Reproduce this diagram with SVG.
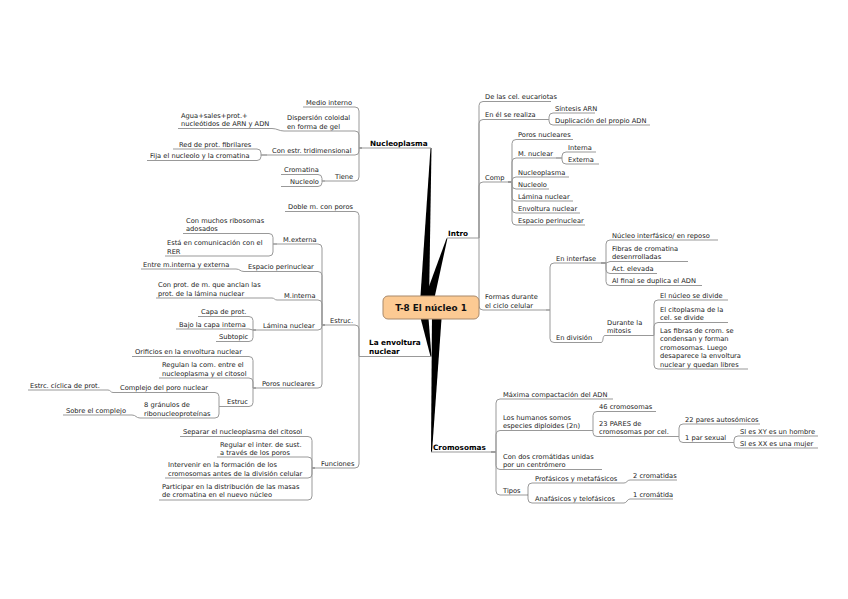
<svg xmlns="http://www.w3.org/2000/svg" width="848" height="599" viewBox="0 0 848 599">
<style>
.t{font-family:"DejaVu Sans",Verdana,sans-serif;font-size:6.7px;fill:#222}
.b{font-family:"DejaVu Sans",Verdana,sans-serif;font-weight:bold;font-size:7.3px;fill:#000}
.rt{font-family:"DejaVu Sans",Verdana,sans-serif;font-weight:bold;font-size:8.8px;fill:#111}
.u,.c{stroke:#999;stroke-width:1;fill:none}
.w{fill:#000}
</style>
<rect width="848" height="599" fill="#fff"/>
<g id="connectors">
<polygon class="w" points="430.5,148 431.5,148 429,303 420,303"/>
<polygon class="w" points="446.5,238.5 447.5,238 434,300 424,300"/>
<polygon class="w" points="430.5,356.5 431.5,356.5 428,312 419,312"/>
<polygon class="w" points="431,452 432,452 442,312 432,312"/>
<path class="c" d="M479 238 V105.5 Q479 101.5 483 101.5 M479 238 V123.5 Q479 119.5 483 119.5 M479 238 V186 Q479 182 483 182 M479 238 V306 Q479 310 483 310"/>
<path class="c" d="M545 119.5 H549 V117 Q549 113 553 113 M545 119.5 H549 V121 Q549 125 553 125"/>
<path class="c" d="M508 182 H512 V143.5 Q512 139.5 516 139.5 M508 182 H512 V162 Q512 158 516 158 M508 182 H512 V181 Q512 177 516 177 M508 182 H512 V185 Q512 189 516 189 M508 182 H512 V197 Q512 201 516 201 M508 182 H512 V209 Q512 213 516 213 M508 182 H512 V221 Q512 225 516 225"/>
<path class="c" d="M556 158 H562 V156 Q562 152 566 152 M556 158 H562 V160 Q562 164 566 164"/>
<path class="c" d="M546 310 H550 V267 Q550 263 554 263 M546 310 H550 V338.5 Q550 342.5 554 342.5"/>
<path class="c" d="M601 263 H606 V244 Q606 240 610 240 M601 263 H606 L610 261.5 M601 263 H606 V269.5 Q606 273.5 610 273.5 M601 263 H606 V281.5 Q606 285.5 610 285.5"/>
<path class="c" d="M601 342.5 C604 342.5 602 335.5 605 335.5"/>
<path class="c" d="M648 335.5 H654 V304 Q654 300 658 300 M648 335.5 H654 V326.5 Q654 322.5 658 322.5 M648 335.5 H654 V365 Q654 369 658 369"/>
<path class="c" d="M491 452 H496 V403 Q496 399 500 399 M491 452 H496 V434.5 Q496 430.5 500 430.5 M491 452 H496 V465.5 Q496 469.5 500 469.5 M491 452 H496 V491 Q496 495 500 495"/>
<path class="c" d="M589 430.5 H593 V415.5 Q593 411.5 597 411.5 M589 430.5 H593 V432.5 Q593 436.5 597 436.5"/>
<path class="c" d="M676 436.5 H679 V428 Q679 424 683 424 M676 436.5 H679 V438.5 Q679 442.5 683 442.5"/>
<path class="c" d="M730 442.5 H734 V440 Q734 436 738 436 M730 442.5 H734 V444 Q734 448 738 448"/>
<path class="c" d="M527 495 H528 V487 Q528 483 532 483 M527 495 H528 V499 Q528 503 532 503"/>
<path class="c" d="M624 483 C627 483 627 480 630 480 M624 503 C627 503 627 499 630 499"/>
<path class="c" d="M362 148 H359 V111 Q359 107 355 107 M362 148 H359 V135 Q359 131 355 131 M362 148 H359 V151 Q359 155 355 155 M362 148 H359 V177 Q359 181 355 181"/>
<path class="c" d="M284 131 C279 131 277 128.5 272 128.5"/>
<path class="c" d="M267 155 H261 V153 Q261 149 257 149 M267 155 H261 V156.5 Q261 160.5 257 160.5"/>
<path class="c" d="M325 181 H322 V178.5 Q322 174.5 318 174.5 M325 181 H322 V182.5 Q322 186.5 318 186.5"/>
<path class="c" d="M362 356.5 H359 V215.5 Q359 211.5 355 211.5 M362 356.5 H359 V329 Q359 325 355 325 M362 356.5 H359 V464 Q359 468 355 468"/>
<path class="c" d="M325 325 H322 V248 Q322 244 318 244 M325 325 H322 V275.5 Q322 271.5 318 271.5 M325 325 H322 V304 Q322 300 318 300 M325 325 H322 V326 Q322 330 318 330 M325 325 H322 V384 Q322 388 318 388"/>
<path class="c" d="M277 244 H273 V237.5 Q273 233.5 269 233.5 M277 244 H273 V252 Q273 256 269 256"/>
<path class="c" d="M244 271.5 C240 271.5 240 269 236 269 M277 300 C274.5 300 274.5 298 272 298"/>
<path class="c" d="M256 330 H253 V320.5 Q253 316.5 249 316.5 M256 330 H253 L249 329 M256 330 H253 V337.5 Q253 341.5 249 341.5"/>
<path class="c" d="M256 388 H253 V360.5 Q253 356.5 249 356.5 M256 388 H253 V382 Q253 378 249 378 M256 388 H253 V402.5 Q253 406.5 249 406.5"/>
<path class="c" d="M222 406.5 H219 V396.5 Q219 392.5 215 392.5 M222 406.5 H219 V414 Q219 418 215 418"/>
<path class="c" d="M113 392.5 C110.5 392.5 110.5 390 108 390 M140 418 C136 418 136 415 132 415"/>
<path class="c" d="M315 468 H312 V440.5 Q312 436.5 308 436.5 M315 468 H312 V461 Q312 457 308 457 M315 468 H312 V474 Q312 478 308 478 M315 468 H312 V496 Q312 500 308 500"/>
</g>
<g id="root"><rect x="383" y="296" width="96" height="23" rx="5" fill="#fcca93" stroke="#a8896b"/><text class="rt" x="431" y="311" text-anchor="middle">T-8 El núcleo 1</text></g>
<g id="nucleoplasma"><text class="b" x="370" y="145.5">Nucleoplasma</text><path class="u" d="M362 148 H431"/></g>
<g id="intro"><text class="b" x="448" y="235.5">Intro</text><path class="u" d="M447 238 H479"/></g>
<g id="envoltura"><text class="b" x="369" y="344.5">La envoltura<tspan x="369" dy="9">nuclear</tspan></text><path class="u" d="M362 356.5 H431"/></g>
<g id="cromosomas"><text class="b" x="433" y="449.5">Cromosomas</text><path class="u" d="M431 452 H491"/></g>
<g id="n-eucariotas"><text class="t" x="485" y="99">De las cel. eucariotas</text><path class="u" d="M483 101.5 H551"/></g>
<g id="n-realiza"><text class="t" x="485" y="117">En él se realiza</text><path class="u" d="M483 119.5 H545"/></g>
<g id="n-sintesis"><text class="t" x="555" y="110.5">Síntesis ARN</text><path class="u" d="M553 113 H595"/></g>
<g id="n-duplicacion"><text class="t" x="555" y="122.5">Duplicación del propio ADN</text><path class="u" d="M553 125 H650"/></g>
<g id="n-comp"><text class="t" x="485" y="179.5">Comp</text><path class="u" d="M483 182 H508"/></g>
<g id="n-poros1"><text class="t" x="518" y="137">Poros nucleares</text><path class="u" d="M516 139.5 H573"/></g>
<g id="n-mnuclear"><text class="t" x="518" y="155.5">M. nuclear</text><path class="u" d="M516 158 H556"/></g>
<g id="n-interna"><text class="t" x="568" y="149.5">Interna</text><path class="u" d="M566 152 H596"/></g>
<g id="n-externa"><text class="t" x="568" y="161.5">Externa</text><path class="u" d="M566 164 H599"/></g>
<g id="n-nucleoplasma2"><text class="t" x="518" y="174.5">Nucleoplasma</text><path class="u" d="M516 177 H569"/></g>
<g id="n-nucleolo2"><text class="t" x="518" y="186.5">Nucleolo</text><path class="u" d="M516 189 H549"/></g>
<g id="n-lamina2"><text class="t" x="518" y="198.5">Lámina nuclear</text><path class="u" d="M516 201 H573"/></g>
<g id="n-envoltura2"><text class="t" x="518" y="210.5">Envoltura nuclear</text><path class="u" d="M516 213 H580"/></g>
<g id="n-espacio2"><text class="t" x="518" y="222.5">Espacio perinuclear</text><path class="u" d="M516 225 H585"/></g>
<g id="n-formas"><text class="t" x="485" y="298.5">Formas durante<tspan x="485" dy="9">el ciclo celular</tspan></text><path class="u" d="M483 310 H546"/></g>
<g id="n-interfase"><text class="t" x="556" y="260.5">En interfase</text><path class="u" d="M554 263 H601"/></g>
<g id="n-reposo"><text class="t" x="612" y="237.5">Núcleo interfásico/ en reposo</text><path class="u" d="M610 240 H718"/></g>
<g id="n-fibras"><text class="t" x="612" y="250.5">Fibras de cromatina<tspan x="612" dy="8.5">desenrrolladas</tspan></text><path class="u" d="M610 261.5 H688"/></g>
<g id="n-act"><text class="t" x="612" y="271">Act. elevada</text><path class="u" d="M610 273.5 H657"/></g>
<g id="n-alfinal"><text class="t" x="612" y="283">Al final se duplica el ADN</text><path class="u" d="M610 285.5 H702"/></g>
<g id="n-division"><text class="t" x="556" y="340">En división</text><path class="u" d="M554 342.5 H601"/></g>
<g id="n-mitosis"><text class="t" x="607" y="324.5">Durante la<tspan x="607" dy="8.5">mitosis</tspan></text><path class="u" d="M605 335.5 H648"/></g>
<g id="n-divide1"><text class="t" x="660" y="297.5">El núcleo se divide</text><path class="u" d="M658 300 H728"/></g>
<g id="n-divide2"><text class="t" x="660" y="311.5">El citoplasma de la<tspan x="660" dy="8.5">cel. se divide</tspan></text><path class="u" d="M658 322.5 H728"/></g>
<g id="n-libres"><text class="t" x="660" y="332.5">Las fibras de crom. se<tspan x="660" dy="8.5">condensan y forman</tspan><tspan x="660" dy="8.5">cromosomas. Luego</tspan><tspan x="660" dy="8.5">desaparece la envoltura</tspan><tspan x="660" dy="8.5">nuclear y quedan libres</tspan></text><path class="u" d="M658 369 H748"/></g>
<g id="n-maxima"><text class="t" x="503" y="396.5">Máxima compactación del ADN</text><path class="u" d="M500 399 H613"/></g>
<g id="n-humanos"><text class="t" x="503" y="419.5">Los humanos somos<tspan x="503" dy="8.5">especies diploides (2n)</tspan></text><path class="u" d="M500 430.5 H589"/></g>
<g id="n-46"><text class="t" x="599" y="409">46 cromosomas</text><path class="u" d="M597 411.5 H656"/></g>
<g id="n-23"><text class="t" x="599" y="425.5">23 PARES de<tspan x="599" dy="8.5">cromosomas por cel.</tspan></text><path class="u" d="M597 436.5 H676"/></g>
<g id="n-22"><text class="t" x="685" y="421.5">22 pares autosómicos</text><path class="u" d="M683 424 H760"/></g>
<g id="n-sexual"><text class="t" x="685" y="440">1 par sexual</text><path class="u" d="M683 442.5 H730"/></g>
<g id="n-xy"><text class="t" x="740" y="433.5">SI es XY es un hombre</text><path class="u" d="M738 436 H818"/></g>
<g id="n-xx"><text class="t" x="740" y="445.5">SI es XX es una mujer</text><path class="u" d="M738 448 H818"/></g>
<g id="n-dos"><text class="t" x="503" y="458.5">Con dos cromátidas unidas<tspan x="503" dy="8.5">por un centrómero</tspan></text><path class="u" d="M500 469.5 H602"/></g>
<g id="n-tipos"><text class="t" x="503" y="492.5">Tipos</text><path class="u" d="M500 495 H527"/></g>
<g id="n-profasicos"><text class="t" x="535" y="480.5">Profásicos y metafásicos</text><path class="u" d="M532 483 H624"/></g>
<g id="n-2crom"><text class="t" x="633" y="477.5">2 cromatidas</text><path class="u" d="M630 480 H677"/></g>
<g id="n-anafasicos"><text class="t" x="535" y="500.5">Anafásicos y telofásicos</text><path class="u" d="M532 503 H624"/></g>
<g id="n-1crom"><text class="t" x="633" y="496.5">1 cromátida</text><path class="u" d="M630 499 H673"/></g>
<g id="n-medio"><text class="t" x="306" y="104.5">Medio interno</text><path class="u" d="M303 107 H355"/></g>
<g id="n-dispersion"><text class="t" x="287" y="120">Dispersión coloidal<tspan x="287" dy="8.5">en forma de gel</tspan></text><path class="u" d="M284 131 H355"/></g>
<g id="n-agua"><text class="t" x="181" y="117.5">Agua+sales+prot.+<tspan x="181" dy="8.5">nucleótidos de ARN y ADN</tspan></text><path class="u" d="M178 128.5 H272"/></g>
<g id="n-estr"><text class="t" x="272" y="152.5">Con estr. tridimensional</text><path class="u" d="M267 155 H355"/></g>
<g id="n-red"><text class="t" x="179" y="146.5">Red de prot. fibrilares</text><path class="u" d="M173 149 H257"/></g>
<g id="n-fija"><text class="t" x="150" y="158">Fija el nucleolo y la cromatina</text><path class="u" d="M147 160.5 H257"/></g>
<g id="n-tiene"><text class="t" x="335" y="178.5">Tiene</text><path class="u" d="M325 181 H355"/></g>
<g id="n-cromatina"><text class="t" x="284" y="172">Cromatina</text><path class="u" d="M281 174.5 H318"/></g>
<g id="n-nucleolo"><text class="t" x="290" y="184">Nucleolo</text><path class="u" d="M281 186.5 H318"/></g>
<g id="n-doble"><text class="t" x="288" y="209">Doble m. con poros</text><path class="u" d="M285 211.5 H355"/></g>
<g id="n-estruc1"><text class="t" x="330" y="322.5">Estruc.</text><path class="u" d="M325 325 H355"/></g>
<g id="n-funciones"><text class="t" x="321" y="465.5">Funciones</text><path class="u" d="M315 468 H355"/></g>
<g id="n-mexterna"><text class="t" x="283" y="241.5">M.externa</text><path class="u" d="M277 244 H318"/></g>
<g id="n-ribosomas"><text class="t" x="186" y="222.5">Con muchos ribosomas<tspan x="186" dy="8.5">adosados</tspan></text><path class="u" d="M183 233.5 H269"/></g>
<g id="n-rer"><text class="t" x="167" y="245">Está en comunicación con el<tspan x="167" dy="8.5">RER</tspan></text><path class="u" d="M165 256 H269"/></g>
<g id="n-espacio"><text class="t" x="248" y="269">Espacio perinuclear</text><path class="u" d="M244 271.5 H318"/></g>
<g id="n-entre"><text class="t" x="143" y="266.5">Entre m.interna y externa</text><path class="u" d="M141 269 H236"/></g>
<g id="n-minterna"><text class="t" x="284" y="297.5">M.interna</text><path class="u" d="M277 300 H318"/></g>
<g id="n-anclan"><text class="t" x="158" y="287">Con prot. de m. que anclan las<tspan x="158" dy="8.5">prot. de la lámina nuclear</tspan></text><path class="u" d="M156 298 H272"/></g>
<g id="n-lamina"><text class="t" x="263" y="327.5">Lámina nuclear</text><path class="u" d="M256 330 H318"/></g>
<g id="n-capa"><text class="t" x="201" y="314">Capa de prot.</text><path class="u" d="M198 316.5 H249"/></g>
<g id="n-bajo"><text class="t" x="179" y="326.5">Bajo la capa interna</text><path class="u" d="M176 329 H249"/></g>
<g id="n-subtopic"><text class="t" x="219" y="339">Subtopic</text><path class="u" d="M216 341.5 H249"/></g>
<g id="n-poros"><text class="t" x="262" y="385.5">Poros nucleares</text><path class="u" d="M256 388 H318"/></g>
<g id="n-orificios"><text class="t" x="135" y="354">Orificios en la envoltura nuclear</text><path class="u" d="M132 356.5 H249"/></g>
<g id="n-regulan"><text class="t" x="162" y="367">Regulan la com. entre el<tspan x="162" dy="8.5">nucleoplasma y el citosol</tspan></text><path class="u" d="M159 378 H249"/></g>
<g id="n-estruc2"><text class="t" x="227" y="404">Estruc</text><path class="u" d="M222 406.5 H249"/></g>
<g id="n-complejo"><text class="t" x="120" y="390">Complejo del poro nuclear</text><path class="u" d="M113 392.5 H215"/></g>
<g id="n-ciclica"><text class="t" x="30" y="387.5">Estrc. cíclica de prot.</text><path class="u" d="M28 390 H108"/></g>
<g id="n-granulos"><text class="t" x="144" y="407">8 gránulos de<tspan x="144" dy="8.5">ribonucleoproteínas</tspan></text><path class="u" d="M140 418 H215"/></g>
<g id="n-sobre"><text class="t" x="66" y="412.5">Sobre el complejo</text><path class="u" d="M63 415 H132"/></g>
<g id="n-separar"><text class="t" x="183" y="434">Separar el nucleoplasma del citosol</text><path class="u" d="M180 436.5 H308"/></g>
<g id="n-regular"><text class="t" x="220" y="446.5">Regular el inter. de sust.<tspan x="220" dy="8.5">a través de los poros</tspan></text><path class="u" d="M217 457 H308"/></g>
<g id="n-intervenir"><text class="t" x="168" y="467">Intervenir en la formación de los<tspan x="168" dy="8.5">cromosomas antes de la división celular</tspan></text><path class="u" d="M165 478 H308"/></g>
<g id="n-participar"><text class="t" x="162" y="488.5">Participar en la distribución de las masas<tspan x="162" dy="8.5">de cromatina en el nuevo núcleo</tspan></text><path class="u" d="M159 500 H308"/></g>
</svg>
